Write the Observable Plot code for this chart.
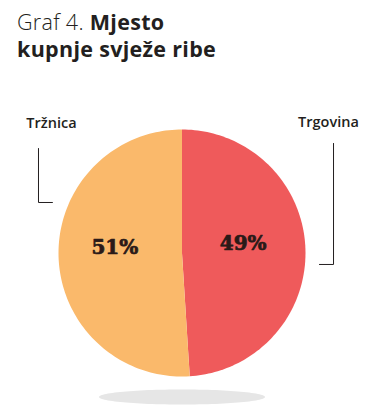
<!DOCTYPE html>
<html><head><meta charset="utf-8">
<script src="https://cdn.jsdelivr.net/npm/d3@7"></script>
<script src="https://cdn.jsdelivr.net/npm/@observablehq/plot@0.6"></script>
<style>
body{margin:0;background:#fff;}
#title{height:70px;box-sizing:border-box;padding:8px 0 0 17px;font-family:"Open Sans";font-size:21.5px;line-height:27px;color:#231f20;letter-spacing:0.3px;}
#title .light{font-weight:300}
#title b{font-weight:700}
g[aria-label="pct"] text{letter-spacing:-1.8px}
g[aria-label="cat"] text{letter-spacing:0.4px}
</style></head><body>
<div id="title"><span class="light">Graf 4.</span> <b>Mjesto<br>kupnje svježe ribe</b></div>
<div id="chart"></div>
<script>
// data
const categories = ["Trgovina", "Tržnica"];
const shares = [49, 51];
const pctLabels = ["49%", "51%"];
const colors = ["#ef5a5b", "#fab96b"];

// pie geometry (in units of the pie radius)
const arcs = d3.pie().sort(null)(shares);
const slices = [];
arcs.forEach((a, i) => {
  const n = 120;
  slices.push({cat: categories[i], x: 0, y: 0});
  for (let k = 0; k <= n; k++) {
    const t = a.startAngle + (a.endAngle - a.startAngle) * k / n;
    slices.push({cat: categories[i], x: Math.sin(t), y: Math.cos(t)});
  }
});
const pcts = arcs.map((a, i) => {
  const m = (a.startAngle + a.endAngle) / 2;
  return {cat: categories[i], label: pctLabels[i], x: Math.sin(m) * 0.52, y: Math.cos(m) * 0.52};
});
// shadow ellipse below the pie
const shadow = d3.range(0, 2 * Math.PI + 0.01, Math.PI / 60).map(t => ({x: 0.672 * Math.sin(t), y: -1.166 + 0.061 * Math.cos(t)}));
// annotation layout
const catLabels = [
  {label: "Tržnica", x: -1.057, y: 1.053},
  {label: "Trgovina", x: 1.186, y: 1.061}
];
const leaders = [
  {cat: "Tržnica", x: -1.162, y: 0.846}, {cat: "Tržnica", x: -1.162, y: 0.409}, {cat: "Tržnica", x: -1.049, y: 0.409},
  {cat: "Trgovina", x: 1.227, y: 0.887}, {cat: "Trgovina", x: 1.227, y: -0.093}, {cat: "Trgovina", x: 1.113, y: -0.093}
];

const chart = Plot.plot({
  width: 386,
  height: 344,
  margin: 0,
  x: {domain: [-1.4696, 1.6559], axis: null},
  y: {domain: [-1.3077, 1.4777], axis: null},
  color: {domain: categories, range: colors},
  style: {background: "#fff"},
  marks: [
    Plot.line(shadow, {x: "x", y: "y", fill: "#e6e6e6", stroke: "none"}),
    Plot.line(slices, {x: "x", y: "y", z: "cat", fill: "cat", stroke: "none"}),
    Plot.text(pcts, {x: "x", y: "y", text: "label", dx: -3, dy: -7, fill: "#2a1a18", stroke: "#2a1a18", strokeWidth: 0.7, fontSize: 20, fontWeight: "bold", fontFamily: "DejaVu Serif", ariaLabel: "pct"}),
    Plot.line(leaders, {x: "x", y: "y", z: "cat", stroke: "#231f20", strokeWidth: 1}),
    Plot.text(catLabels, {x: "x", y: "y", text: "label", fill: "#231f20", fontSize: 14.5, fontWeight: 600, fontFamily: "Open Sans", ariaLabel: "cat"})
  ]
});
document.getElementById("chart").appendChild(chart);
</script>
</body></html>
